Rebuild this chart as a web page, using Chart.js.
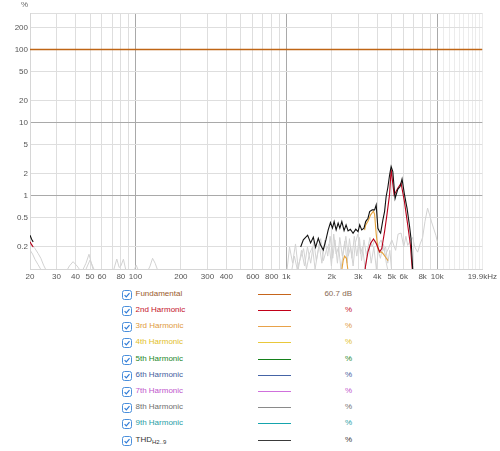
<!DOCTYPE html>
<html>
<head>
<meta charset="utf-8">
<script src="https://cdn.jsdelivr.net/npm/chart.js@4.4.1/dist/chart.umd.min.js"></script>
<style>
  body { margin: 0; background: #fff; font-family: 'Liberation Sans', Arial, sans-serif; }
  #wrap { position: relative; width: 500px; height: 451px; overflow: hidden; }
  #plot { position: absolute; left: 0; top: 0; width: 500px; height: 285px; }
  #unit { position: absolute; left: 21px; top: 0px; font-size: 8px; color: #666; }
  .row { position: absolute; left: 0; width: 500px; height: 16px; line-height: 16px; font-size: 8px; }
  .row svg { position: absolute; left: 122px; top: 3.5px; }
  .row .name { position: absolute; left: 135.5px; top: 0; white-space: nowrap; }
  .row .name sub { font-size: 6px; vertical-align: -2px; }
  .row .line { position: absolute; left: 258px; width: 33px; top: 8px; height: 1px; }
  .row .val { position: absolute; right: 148px; top: 0; text-align: right; white-space: nowrap; }
</style>
</head>
<body>
<div id="wrap">
  <div id="plot"><canvas id="myChart"></canvas></div>
  <span id="unit">%</span>
  <div id="legend"></div>
</div>
<script>
// axis grid and labels
var xGridFreqs = [20, 30, 40, 50, 60, 70, 80, 90, 100, 200, 300, 400, 500, 600, 700, 800, 900,
  1000, 2000, 3000, 4000, 5000, 6000, 7000, 8000, 9000, 10000,
  11000, 12000, 13000, 14000, 15000, 16000, 17000, 18000, 19000, 19900];
var xLabelFreqs = [20, 30, 40, 50, 60, 80, 100, 200, 300, 400, 600, 800, 1000, 2000, 3000, 4000, 5000, 6000, 8000, 10000, 19900];
var xLabelTexts = ['20', '30', '40', '50', '60', '80', '100', '200', '300', '400', '600', '800', '1k', '2k', '3k', '4k', '5k', '6k', '8k', '10k', '19.9kHz'];
var yGridVals = [0.2, 0.5, 1, 2, 5, 10, 20, 50, 100, 200, 316.2];
var yLabelTexts = ['0.2', '0.5', '1', '2', '5', '10', '20', '50', '100', '200', ''];

// fundamental (flat 100%)
var fundFreq = [20, 19900];
var fundPct = [100, 100];

// THD H2..9
var thdFreq = [20, 20.5, 21, 600,
  1244, 1296, 1384, 1448, 1509, 1562, 1628, 1686, 1756, 1829,
  1894, 1961, 2021, 2074, 2138, 2204, 2262, 2332, 2414, 2488,
  2565, 2656, 2768, 2884, 2986, 3064, 3158, 3270, 3356, 3476,
  3565, 3708, 3845, 3940, 4044, 4150, 4214, 4364, 4476, 4586,
  4706, 4828, 4948, 5076, 5256, 5476, 5672, 5846, 6062, 6306,
  6540, 6700, 6802, 6874, 7000];
var thdPct = [0.29, 0.255, 0.235, null,
  0.20, 0.25, 0.29, 0.227, 0.272, 0.198, 0.263, 0.213, 0.182, 0.25,
  0.342, 0.431, 0.361, 0.445, 0.342, 0.423, 0.361, 0.445, 0.335, 0.401,
  0.332, 0.35, 0.308, 0.35, 0.324, 0.401, 0.342, 0.361, 0.445, 0.495,
  0.61, 0.643, 0.643, 0.753, 0.36, 0.324, 0.31, 0.47, 0.61, 0.98,
  1.3, 1.9, 2.52, 2.15, 0.92, 1.23, 1.34, 1.7, 1.05, 0.68,
  0.40, 0.26, 0.15, 0.10, 0.07];

// 2nd harmonic
var h2Freq = [20, 20.5, 21, 600, 3300, 3340, 3476, 3620, 3780, 3940, 4150, 4290,
  4476, 4640, 4828, 4948, 5180, 5476, 5760, 6062, 6374, 6640, 6802, 6900];
var h2Pct = [0.235, 0.215, 0.2, null, 0.08, 0.107, 0.172, 0.225, 0.257, 0.225, 0.172, 0.19,
  0.324, 0.549, 1.03, 2.3, 1.03, 1.27, 1.49, 0.835, 0.40, 0.213, 0.11, 0.08];

// 3rd harmonic
var h3Freq = [2300, 2380, 2430, 2500, 2570, 2600, 3300, 3356, 3476, 3620, 3780, 3845, 3940, 4044, 4150, 4290, 4400, 4600, 4720];
var h3Pct = [0.08, 0.13, 0.15, 0.14, 0.09, null, 0.34, 0.40, 0.45, 0.55, 0.62, 0.56, 0.30, 0.19, 0.17, 0.17, 0.16, 0.14, 0.13];

// higher harmonics (grey traces)
var grayAFreq = [20, 20.8, 21.6, 22.6, 23.5, 25];
var grayAPct = [0.182, 0.16, 0.135, 0.115, 0.1, 0.08];
var grayBFreq = [20, 20.5, 21.6, 22.6, 23.6, 24.6, 26];
var grayBPct = [0.22, 0.213, 0.19, 0.164, 0.14, 0.113, 0.09];
var grayCFreq = [26, 30, 34, 36.5, 38.6, 41, 44, 47, 49.2, 51, 54, 60, 68, 72, 75.2, 78, 80, 83.2, 87, 95, 101, 106, 118, 125, 129.8, 135, 142, 150];
var grayCPct = [0.08, 0.095, 0.085, 0.11, 0.126, 0.11, 0.09, 0.12, 0.159, 0.12, 0.08, 0.09, 0.08, 0.1, 0.137, 0.105, 0.11, 0.136, 0.09, 0.08, 0.113, 0.09, 0.085, 0.11, 0.14, 0.12, 0.09, 0.07];
var grayDFreq = [45, 48, 50, 53, 56, 980,
  1000, 1050, 1100, 1150, 1200, 1260, 1320, 1380, 1450, 1520,
  1580, 1650, 1720, 1800, 1880, 1950, 2030, 2100, 2180, 2260,
  2350, 2440, 2530, 2620, 2720, 2820, 2930, 3050, 3150, 3270,
  3400, 3520, 3650, 3800, 3950, 4100, 4250, 4400, 4550, 4700, 4850, 5000];
var grayDPct = [0.08, 0.11, 0.133, 0.1, 0.08, null,
  0.08, 0.2, 0.12, 0.22, 0.1, 0.18, 0.11, 0.2, 0.12, 0.24,
  0.13, 0.22, 0.12, 0.25, 0.15, 0.28, 0.14, 0.25, 0.12, 0.27,
  0.15, 0.24, 0.12, 0.26, 0.14, 0.28, 0.15, 0.27, 0.13, 0.25,
  0.15, 0.22, 0.12, 0.2, 0.1, 0.22, 0.25, 0.18, 0.2, 0.12, 0.18, 0.09];
var grayEFreq = [1080, 1130, 1180, 1240, 1300, 1360, 1420, 1490, 1550, 1620,
  1690, 1760, 1840, 1920, 1990, 2060, 2140, 2220, 2300, 2400,
  2480, 2570, 2670, 2770, 2870, 2980, 3100, 3200, 3330, 3450,
  3580, 3700, 3850, 4000, 4200, 4400, 4600, 4800];
var grayEPct = [0.09, 0.15, 0.1, 0.14, 0.19, 0.1, 0.16, 0.2, 0.1, 0.17,
  0.26, 0.13, 0.18, 0.22, 0.11, 0.3, 0.16, 0.2, 0.1, 0.18,
  0.28, 0.15, 0.2, 0.11, 0.23, 0.3, 0.16, 0.2, 0.1, 0.18,
  0.27, 0.2, 0.25, 0.2, 0.14, 0.22, 0.12, 0.08];
var grayFFreq = [4500, 4800, 5000, 5300, 5500, 5760, 6000, 6200, 6374, 6600,
  6874, 7100, 7418, 7700, 8002, 8300, 8630, 8900, 9170, 9500, 9788, 10042];
var grayFPct = [0.15, 0.2, 0.25, 0.18, 0.3, 0.31, 0.2, 0.28, 0.21, 0.24,
  0.27, 0.2, 0.17, 0.22, 0.27, 0.45, 0.68, 0.55, 0.44, 0.35, 0.29, 0.23];

// legend
var legendNames = ['Fundamental', '2nd Harmonic', '3rd Harmonic', '4th Harmonic', '5th Harmonic',
  '6th Harmonic', '7th Harmonic', '8th Harmonic', '9th Harmonic', 'THD<sub>H2..9</sub>'];
var legendTextColors = ['#9a5a2c', '#c4122a', '#e09a40', '#e2c02a', '#23872a',
  '#44609e', '#c055cc', '#6f6f6f', '#1f9ea6', '#333333'];
var legendLineColors = ['#c6651b', '#c20018', '#e8a24a', '#e9c83a', '#14801a',
  '#4564a6', '#d070dc', '#8a8a8a', '#15a4ad', '#3a3a3a'];
var legendValues = ['60.7 dB', '%', '%', '%', '%', '%', '%', '%', '%', '%'];

function pts(fs, ps) {
  return fs.map(function(f, i) { return { x: f, y: ps[i] }; });
}

function series(fs, ps, color, width) {
  return {
    data: pts(fs, ps),
    borderColor: color,
    backgroundColor: color,
    borderWidth: width,
    pointRadius: 0,
    tension: 0,
    spanGaps: false
  };
}

var grey = '#d2d2d2';
var datasets = [
  series(fundFreq, fundPct, '#bf6514', 1.6),
  series(thdFreq, thdPct, '#111111', 1.1),
  series(h2Freq, h2Pct, '#b8001a', 1.1),
  series(h3Freq, h3Pct, '#e5a23a', 1.1),
  series(grayAFreq, grayAPct, grey, 1),
  series(grayBFreq, grayBPct, grey, 1),
  series(grayCFreq, grayCPct, grey, 1),
  series(grayDFreq, grayDPct, grey, 1),
  series(grayEFreq, grayEPct, grey, 1),
  series(grayFFreq, grayFPct, grey, 1)
];

Chart.defaults.font.family = "'Liberation Sans', Arial, sans-serif";
Chart.defaults.font.size = 8;
Chart.defaults.color = '#555';

var ctx = document.getElementById('myChart').getContext('2d');
var myChart = new Chart(ctx, {
  type: 'line',
  data: { datasets: datasets },
  options: {
    responsive: true,
    maintainAspectRatio: false,
    animation: false,
    layout: { padding: { top: 13, right: 13, left: 0, bottom: 0 } },
    plugins: { legend: { display: false }, tooltip: { enabled: false } },
    scales: {
      x: {
        type: 'logarithmic',
        min: 20,
        max: 19900,
        afterBuildTicks: function(scale) {
          scale.ticks = xGridFreqs.map(function(v) { return { value: v }; });
        },
        afterFit: function(scale) { scale.height = 16; },
        ticks: {
          autoSkip: false,
          maxRotation: 0,
          minRotation: 0,
          padding: 3,
          color: '#555',
          callback: function(v) {
            var i = xLabelFreqs.indexOf(v);
            return i >= 0 ? xLabelTexts[i] : '';
          }
        },
        grid: {
          drawTicks: false,
          color: function(c) {
            var v = c.tick ? c.tick.value : 0;
            if (v === 100 || v === 1000 || v === 10000) return '#a9a9a9';
            if (v > 10000) return '#ececec';
            return '#dedede';
          }
        },
        border: { color: '#d6d6d6' }
      },
      y: {
        type: 'logarithmic',
        min: 0.1,
        max: 316.2,
        afterBuildTicks: function(scale) {
          scale.ticks = yGridVals.map(function(v) { return { value: v }; });
        },
        afterFit: function(scale) { scale.width = 30; },
        ticks: {
          autoSkip: false,
          padding: 2,
          color: '#555',
          callback: function(v) {
            var i = yGridVals.indexOf(v);
            return i >= 0 ? yLabelTexts[i] : '';
          }
        },
        grid: {
          drawTicks: false,
          color: function(c) {
            var v = c.tick ? c.tick.value : 0;
            if (v === 1 || v === 10 || v === 100) return '#a9a9a9';
            return '#dedede';
          }
        },
        border: { color: '#d6d6d6' }
      }
    }
  }
});

// legend rows
var box = '<svg width="10" height="10" viewBox="0 0 10 10"><rect x="0.5" y="0.5" width="9" height="9" rx="2" fill="#fff" stroke="#4a8fdc"/>' +
  '<path d="M2.6 5.1 L4.3 6.8 L7.5 3.2" stroke="#2f7bd6" stroke-width="1.2" fill="none"/></svg>';
var html = '';
legendNames.forEach(function(name, i) {
  var top = Math.round(285.7 + i * 16.2);
  html += '<div class="row" style="top:' + top + 'px">' + box +
    '<span class="name" style="color:' + legendTextColors[i] + '">' + name + '</span>' +
    '<span class="line" style="background:' + legendLineColors[i] + '"></span>' +
    '<span class="val" style="color:' + (i === 0 ? '#8a6a52' : legendTextColors[i]) + '">' + legendValues[i] + '</span>' +
    '</div>';
});
document.getElementById('legend').innerHTML = html;
</script>
</body>
</html>
